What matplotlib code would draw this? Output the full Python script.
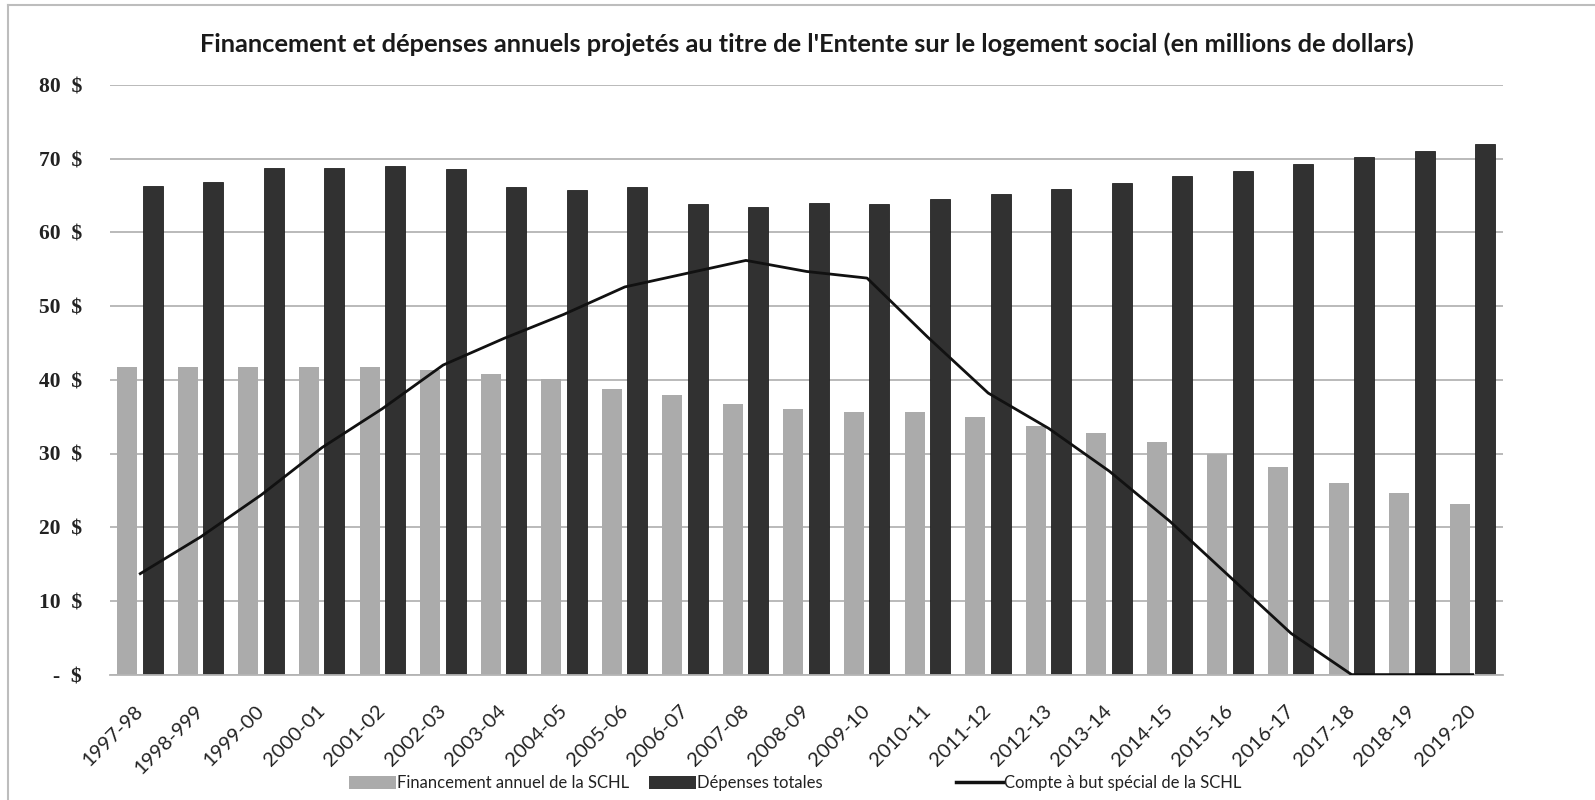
import matplotlib
matplotlib.use("Agg")
import matplotlib.pyplot as plt
import numpy as np
from matplotlib.lines import Line2D
from matplotlib.patches import Patch

years = ["1997-98", "1998-999", "1999-00", "2000-01", "2001-02", "2002-03", "2003-04",
         "2004-05", "2005-06", "2006-07", "2007-08", "2008-09", "2009-10", "2010-11",
         "2011-12", "2012-13", "2013-14", "2014-15", "2015-16", "2016-17", "2017-18",
         "2018-19", "2019-20"]

# Financement annuel de la SCHL
financement = [41.7, 41.7, 41.7, 41.7, 41.7, 41.3, 40.8, 40.1, 38.8, 37.9, 36.7, 36.0,
               35.6, 35.6, 35.0, 33.7, 32.8, 31.5, 30.0, 28.2, 26.0, 24.7, 23.2]
# Dépenses totales
depenses = [66.3, 66.8, 68.8, 68.7, 69.0, 68.6, 66.1, 65.7, 66.1, 63.8, 63.4, 64.0,
            63.8, 64.5, 65.2, 65.9, 66.7, 67.6, 68.3, 69.3, 70.2, 71.1, 72.0]
# Compte à but spécial de la SCHL
compte = [13.7, 18.7, 24.4, 30.8, 36.1, 42.0, 45.6, 48.9, 52.6, 54.4, 56.2, 54.7,
          53.8, 45.8, 38.2, 33.4, 27.6, 20.8, 13.2, 5.6, 0.0, 0.0, 0.0]

yticks = [0, 10, 20, 30, 40, 50, 60, 70, 80]
ytick_labels = ["-  $" if v == 0 else f"{v}  $" for v in yticks]

title = "Financement et dépenses annuels projetés au titre de l'Entente sur le logement social (en millions de dollars)"

light = "#ababab"
dark = "#313131"
grid = "#b4b4b4"

plt.rcParams['font.family'] = ['Lato', 'DejaVu Sans']

fig = plt.figure(figsize=(15.95, 8), dpi=100)
ax = fig.add_axes([110 / 1595, 1 - 674.6 / 800, (1503 - 110) / 1595, (674.6 - 85) / 800])

x = np.arange(len(years))
width = 0.33
ax.bar(x - 0.215, financement, width, color=light, zorder=2)
ax.bar(x + 0.205, depenses, width, color=dark, edgecolor="#222222", linewidth=0.6, zorder=2)
ax.plot(x, compte, color="#111111", linewidth=2.0, zorder=3)

ax.set_xlim(-0.5, len(years) - 0.5)
ax.set_ylim(0, 80)
ax.set_yticks(yticks)
ax.set_yticklabels(ytick_labels, family=['Liberation Serif', 'DejaVu Serif'],
                   fontweight="bold", fontsize=15.5, color="#222222")
ax.yaxis.grid(True, color=grid, linewidth=1.3, zorder=0)
ax.set_axisbelow(True)
ax.tick_params(axis="y", length=0, pad=20)
ax.tick_params(axis="x", length=0, pad=24)
ax.set_xticks(x)
ax.set_xticklabels(years, rotation=45, ha="right", va="center", rotation_mode="anchor",
                   fontsize=14.5, color="#222222")
for side in ["top", "right", "left"]:
    ax.spines[side].set_visible(False)
ax.spines["bottom"].set_color(grid)
ax.spines["bottom"].set_linewidth(1.3)

ax.set_title(title, fontsize=18.3, fontweight="bold", color="#1a1a1a", pad=24)

# legend entries spaced like the original, one block each
entries = [
    (Patch(facecolor=light), "Financement annuel de la SCHL", 349),
    (Patch(facecolor=dark), "Dépenses totales", 649),
    (Line2D([], [], color="#111111", linewidth=2.5), "Compte à but spécial de la SCHL", 956),
]
for handle, label, xpos in entries:
    leg = fig.legend([handle], [label], loc="center left", bbox_to_anchor=(xpos / 1595, 1 - 783 / 800),
                     frameon=False, fontsize=12, handlelength=2.8, handleheight=0.85,
                     handletextpad=0.1, borderaxespad=0, borderpad=0)
    for t in leg.get_texts():
        t.set_color("#222222")

# thin grey frame around the chart (top and left edges visible)
fig.add_artist(Line2D([8 / 1595, 1], [1 - 5 / 800, 1 - 5 / 800], transform=fig.transFigure,
                      color="#bdbdbd", linewidth=1.5))
fig.add_artist(Line2D([8 / 1595, 8 / 1595], [0, 1 - 5 / 800], transform=fig.transFigure,
                      color="#bdbdbd", linewidth=1.5))

fig.savefig("out.png", dpi=100, facecolor="white")
